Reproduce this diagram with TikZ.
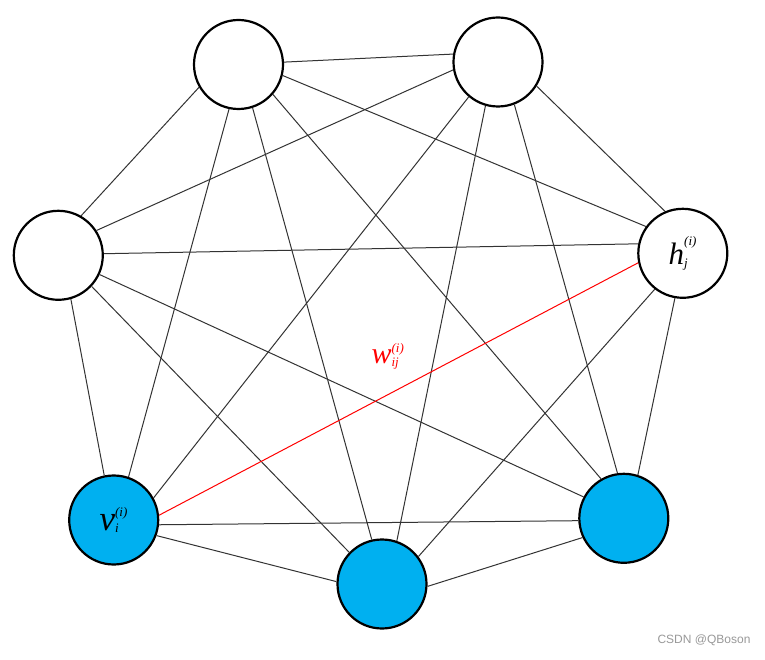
\documentclass[tikz,border=0pt]{standalone}
\usepackage{fontspec}
\newfontfamily\wmfont{Liberation Sans}
\newfontfamily\lblfont{Liberation Serif}
\newcommand\biglab[4]{$\mbox{\lblfont\itshape\fontsize{#4}{#4}\selectfont #1}^{\mbox{\lblfont\itshape\fontsize{13}{13}\selectfont #2}}_{\mbox{\lblfont\itshape\fontsize{13}{13}\selectfont #3}}$}
\definecolor{nodeblue}{HTML}{00B0F0}
\definecolor{edgegray}{HTML}{333333}
\begin{document}
\begin{tikzpicture}[x=1pt,y=-1pt,
  unit/.style={circle,draw=black,line width=2.2pt,minimum size=89pt,inner sep=0pt,fill=white},
  visible/.style={unit,fill=nodeblue},
  edge/.style={draw=edgegray,line width=1pt},
  redge/.style={draw=red,line width=1pt},
  lbl/.style={inner sep=0pt}]
\useasboundingbox[fill=white] (0,0) rectangle (765,660);
\node[unit] (t1) at (238.5,64.5) {};
\node[unit] (t2) at (498,62) {};
\node[unit] (l) at (58.3,255.3) {};
\node[unit] (h) at (682.8,253.3) {\biglab{h}{(i)}{j}{31}};
\node[visible] (v) at (113.7,520) {\biglab{v}{(i)}{i}{35}};
\node[visible] (m) at (382,584) {};
\node[visible] (r) at (623.8,518.3) {};
\draw[edge] (t1.3) -- (t2.170);
\draw[edge] (t1.-14) -- (h.144);
\draw[edge] (t1.-41) -- (r.120);
\draw[edge] (t1.-72) -- (m.103);
\draw[edge] (t1.-102) -- (v.71.5);
\draw[edge] (t1.210) -- (l.60);
\draw[edge] (t2.190) -- (l.33);
\draw[edge] (t2.230) -- (v.29.4);
\draw[edge] (t2.254) -- (m.71.5);
\draw[edge] (t2.-69) -- (r.98.7);
\draw[edge] (t2.-32.5) -- (h.113);
\draw[edge] (l.2.5) -- (h.168.5);
\draw[edge] (l.-25.5) -- (r.152);
\draw[edge] (l.-43) -- (m.136);
\draw[edge] (l.-74.5) -- (v.102.5);
\draw[redge] (v.6) -- (h.192.7);
\draw[edge] (v.-6) -- (r.183);
\draw[edge] (v.-20.5) -- (m.177);
\draw[edge] (h.232) -- (m.37.5);
\draw[edge] (h.260) -- (r.72);
\draw[edge] (m.-3.3) -- (r.205.5);
\node[lbl,text=red] (w) at (388,356) {\biglab{w}{(i)}{ij}{30}};
\node[font=\wmfont\fontsize{12}{14}\selectfont,text=black!40] (wm) at (704,640) {CSDN @QBoson};
\end{tikzpicture}
\end{document}
